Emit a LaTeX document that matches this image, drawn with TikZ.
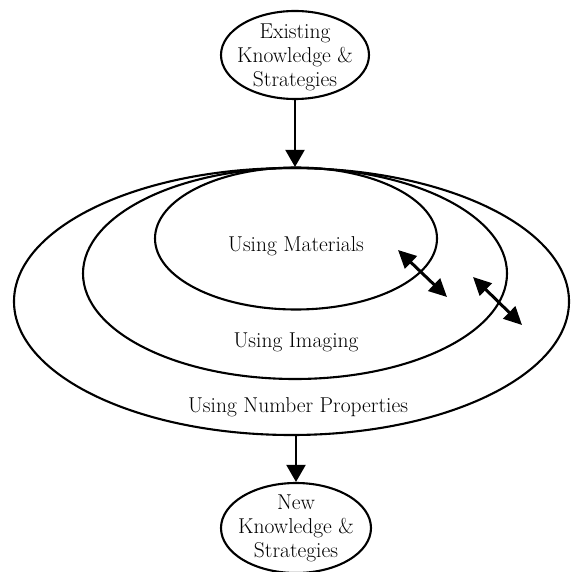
\documentclass[tikz,border=0pt]{standalone}
\usetikzlibrary{shapes.geometric,arrows.meta}
\begin{document}
\begin{tikzpicture}[x=1pt,y=-1pt,
  oval/.style={draw=black,line width=2.1pt,ellipse,inner sep=0pt},
  lbl/.style={font=\fontsize{21.5}{24}\selectfont,text=black,align=center,inner sep=0pt},
  flow/.style={line width=2pt,-{Triangle[length=17pt,width=19pt]}},
  both/.style={line width=3pt,{Triangle[length=18pt,width=17pt]}-{Triangle[length=18pt,width=17pt]}}]
\useasboundingbox[fill=white] (0,0) rectangle (571,572);
% ellipses
\node[oval,minimum width=148pt,minimum height=88pt] (top) at (295,55) {};
\node[oval,minimum width=150pt,minimum height=90pt] (bot) at (296,528) {};
\node[oval,minimum width=555pt,minimum height=267pt] (outer) at (291.5,301.5) {};
\node[oval,minimum width=424pt,minimum height=211pt] (middle) at (295,273.5) {};
\node[oval,minimum width=282pt,minimum height=142pt] (inner) at (296,238.5) {};
% texts
\node[lbl] (toptxt) at (295,57) {Existing\\Knowledge \&\\Strategies};
\node[lbl] (bottxt) at (296,528) {New\\Knowledge \&\\Strategies};
\node[lbl,anchor=base] (mat) at (296,251) {Using Materials};
\node[lbl,anchor=base] (img) at (296,347) {Using Imaging};
\node[lbl,anchor=base] (num) at (298,412) {Using Number Properties};
% flow arrows
\draw[flow] (top.south) -- (top.south |- outer.north);
\draw[flow] (bot.north |- outer.south) -- (bot.north);
% double arrows
\coordinate (a1) at (398,250);
\coordinate (a2) at (447,297);
\coordinate (b1) at (473,277);
\coordinate (b2) at (522,325);
\draw[both] (a1) -- (a2);
\draw[both] (b1) -- (b2);
\end{tikzpicture}
\end{document}
